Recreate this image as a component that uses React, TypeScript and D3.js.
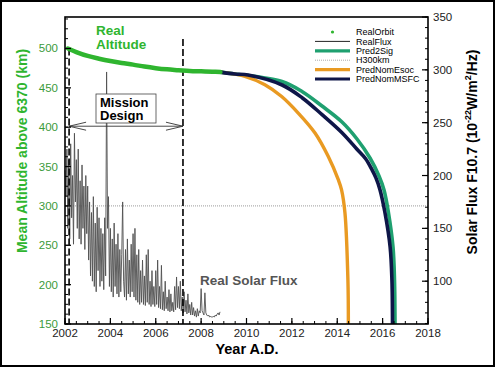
import React from "react";
import * as d3 from "d3";

// ---- data ----
const fluxStartYear = 2002;
const fluxStepsPerYear = 24;
const flux2002 = [205, 180, 225, 150, 215, 140, 230, 160, 200, 135, 240, 175, 215, 150, 225, 140, 195, 135, 210, 150, 190, 130, 200, 145];
const flux2003 = [190, 120, 175, 105, 165, 100, 180, 95, 155, 90, 170, 110, 160, 95, 150, 100, 145, 92, 160, 105, 298, 150, 180, 95];
const flux2004 = [150, 90, 140, 85, 155, 95, 135, 88, 145, 85, 130, 90, 125, 175, 100, 85, 130, 82, 140, 88, 120, 85, 135, 90];
const flux2005 = [145, 85, 150, 82, 125, 80, 130, 78, 110, 80, 120, 78, 105, 77, 125, 80, 130, 78, 100, 76, 110, 78, 95, 76];
const flux2006 = [110, 78, 120, 75, 95, 74, 115, 73, 90, 72, 100, 74, 85, 72, 92, 71, 88, 72, 80, 71, 95, 73, 104, 75];
const flux2007 = [95, 74, 100, 72, 85, 70, 90, 71, 82, 69, 88, 70, 78, 68, 80, 68, 75, 67, 72, 66, 74, 67, 72, 70];
const flux2008 = [93, 72, 70, 68, 89, 70, 68, 67, 68, 66, 67, 66, 66, 67, 66, 68, 67, 69, 70, 68, 71];
const realFlux = [...flux2002, ...flux2003, ...flux2004, ...flux2005, ...flux2006, ...flux2007, ...flux2008];

const realOrbitYears = [2002.13, 2002.5, 2003.0, 2003.5, 2004.0, 2004.5, 2005.0, 2005.5, 2006.0, 2006.5, 2007.0, 2007.5, 2008.0, 2008.5, 2008.85];
const realOrbitAlt = [500, 495.5, 490.5, 487, 484, 481.5, 479.5, 477, 475, 473.5, 472.5, 471.5, 471, 470.5, 470];

const pred2SigYears = [2008.85, 2009.49, 2011.565, 2012.446, 2013.328, 2014.209, 2014.87, 2015.443, 2015.84, 2016.061, 2016.259, 2016.457, 2016.523, 2016.545];
const pred2SigAlt = [470, 467.6, 458.1, 445.4, 426.9, 406.6, 385, 360.9, 338, 320.2, 291, 247.8, 205.9, 150];

const predMSFCYears = [2008.85, 2009.49, 2010.07, 2011.57, 2012.45, 2013.33, 2014.21, 2014.87, 2015.25, 2015.53, 2015.7, 2015.88, 2016.1, 2016.33, 2016.41, 2016.435];
const predMSFCAlt = [470, 467.6, 466.3, 453.6, 437.5, 416, 393, 372, 360, 346, 336, 321, 292, 248, 206, 150];

const predEsocYears = [2008.85, 2009.93, 2010.81, 2011.55, 2012.28, 2013.02, 2013.6, 2014.05, 2014.19, 2014.34, 2014.47, 2014.49];
const predEsocAlt = [470, 464.6, 454, 439, 418, 392.6, 363, 333, 320.5, 291, 206, 150];

const h300Alt = 300;
const missionStart = 2002.18;
const missionEnd = 2007.2;

const altTicks = [150, 200, 250, 300, 350, 400, 450, 500];
const fluxTicks = [100, 150, 200, 250, 300, 350];
const yearTicks = [2002, 2004, 2006, 2008, 2010, 2012, 2014, 2016, 2018];

const legendItems = ["RealOrbit", "RealFlux", "Pred2Sig", "H300km", "PredNomEsoc", "PredNomMSFC"];

// ---- styles ----
const C_ORBIT = "#2fb52f";
const C_2SIG = "#1fa070";
const C_ESOC = "#e99a22";
const C_MSFC = "#0e1648";
const C_FLUX = "#505050";
const FONT = "'Liberation Sans', Arial, Helvetica, sans-serif";

export default function App() {
  const L = 65, R = 428, T = 17, B = 324;
  const x = d3.scaleLinear().domain([2002, 2018]).range([L, R]);
  const yAlt = d3.scaleLinear().domain([150, 540]).range([B, T]);
  const yFlux = d3.scaleLinear().domain([59.5, 350]).range([B, T]);

  const fluxLine = d3.line<number>()
    .x((_, i) => x(fluxStartYear + i / fluxStepsPerYear))
    .y((d) => yFlux(d));

  const altLine = d3.line<[number, number]>()
    .x((d) => x(d[0]))
    .y((d) => yAlt(d[1]))
    .curve(d3.curveCatmullRom.alpha(0.5));

  const zip = (a: number[], b: number[]) => a.map((v, i) => [v, b[i]] as [number, number]);

  const altMinor = d3.range(150, 541, 12.5);
  const fluxMinor = d3.range(60, 351, 10);
  const yearMinor = d3.range(2002, 2018.01, 0.5);

  const ay = yAlt(400) - 1;
  const ax1 = x(missionStart);
  const ax2 = x(missionEnd);

  const legX1 = 315, legX2 = 350, legTX = 356, legY0 = 32, legDY = 9.4;

  return (
    <svg width={495} height={367} style={{ position: "absolute", left: 0, top: 0, background: "#fff" }} fontFamily={FONT}>
      <rect x={1} y={1} width={493} height={365} fill="#fff" stroke="#000" strokeWidth={2} />

      {/* H300km dotted */}
      <line x1={L} x2={R} y1={yAlt(h300Alt)} y2={yAlt(h300Alt)} stroke="#b0b0b0" strokeWidth={1.2} strokeDasharray="1,1" />

      {/* real flux */}
      <path d={fluxLine(realFlux) || ""} fill="none" stroke={C_FLUX} strokeWidth={0.9} />

      {/* mission dashed lines */}
      <line x1={ax1} x2={ax1} y1={yAlt(500)} y2={B} stroke="#000" strokeWidth={1.6} strokeDasharray="7,3" />
      <line x1={ax2} x2={ax2} y1={yAlt(512)} y2={B} stroke="#000" strokeWidth={1.6} strokeDasharray="7,3" />

      {/* arrow */}
      <g stroke="#333" strokeWidth={0.9} fill="none">
        <line x1={ax1} x2={ax2} y1={ay} y2={ay} />
        <polyline points={`${ax1 + 17},${ay - 4} ${ax1},${ay} ${ax1 + 17},${ay + 4}`} />
        <polyline points={`${ax2 - 17},${ay - 4} ${ax2},${ay} ${ax2 - 17},${ay + 4}`} />
      </g>

      {/* mission design box */}
      <rect x={96} y={94} width={60} height={29} fill="#fff" stroke="#444" strokeWidth={0.8} />
      <text x={100} y={106.5} fontSize={13} fontWeight="bold" fill="#000">Mission</text>
      <text x={100} y={120} fontSize={13} fontWeight="bold" fill="#000">Design</text>

      {/* predictions */}
      <path d={altLine(zip(pred2SigYears, pred2SigAlt)) || ""} fill="none" stroke={C_2SIG} strokeWidth={3.6} />
      <path d={altLine(zip(predEsocYears, predEsocAlt)) || ""} fill="none" stroke={C_ESOC} strokeWidth={3.4} />
      <path d={altLine(zip(predMSFCYears, predMSFCAlt)) || ""} fill="none" stroke={C_MSFC} strokeWidth={3.6} />
      <path d={altLine(zip(realOrbitYears, realOrbitAlt)) || ""} fill="none" stroke={C_ORBIT} strokeWidth={4.5} strokeLinecap="round" />

      {/* frame */}
      <rect x={L} y={T} width={R - L} height={B - T} fill="none" stroke="#000" strokeWidth={1.6} />

      {/* left axis ticks */}
      {altMinor.map((v) => (
        <line key={"am" + v} x1={L} x2={L + 3} y1={yAlt(v)} y2={yAlt(v)} stroke="#000" strokeWidth={1} />
      ))}
      {altTicks.map((v) => (
        <g key={"a" + v}>
          <line x1={L} x2={L + 6} y1={yAlt(v)} y2={yAlt(v)} stroke="#000" strokeWidth={1.2} />
          <text x={58} y={yAlt(v) + 4} fontSize={11.5} textAnchor="end" fill="#3a9a3a">{v}</text>
        </g>
      ))}

      {/* right axis ticks */}
      {fluxMinor.map((v) => (
        <line key={"fm" + v} x1={R - 3} x2={R} y1={yFlux(v)} y2={yFlux(v)} stroke="#000" strokeWidth={1} />
      ))}
      {fluxTicks.map((v) => (
        <g key={"f" + v}>
          <line x1={R - 6} x2={R} y1={yFlux(v)} y2={yFlux(v)} stroke="#000" strokeWidth={1.2} />
          <text x={433} y={yFlux(v) + 4} fontSize={11.5} textAnchor="start" fill="#222">{v}</text>
        </g>
      ))}

      {/* bottom axis ticks */}
      {yearMinor.map((v) => (
        <line key={"ym" + v} x1={x(v)} x2={x(v)} y1={B} y2={B - 3} stroke="#000" strokeWidth={1} />
      ))}
      {yearTicks.map((v) => (
        <g key={"y" + v}>
          <line x1={x(v)} x2={x(v)} y1={B} y2={B - 6} stroke="#000" strokeWidth={1.2} />
          <text x={x(v)} y={337} fontSize={11.5} textAnchor="middle" fill="#222">{v}</text>
        </g>
      ))}

      {/* annotations */}
      <text x={96} y={35} fontSize={13.5} fontWeight="bold" fill={C_ORBIT}>Real</text>
      <text x={96} y={49} fontSize={13.5} fontWeight="bold" fill={C_ORBIT}>Altitude</text>
      <text x={200} y={285} fontSize={13.5} fontWeight="bold" fill="#555">Real Solar Flux</text>

      {/* axis titles */}
      <text transform={`translate(27,151) rotate(-90)`} fontSize={14} fontWeight="bold" fill={C_ORBIT} textAnchor="middle">
        Mean Altitude above 6370 (km)
      </text>
      <text transform={`translate(477,152) rotate(-90)`} fontSize={14} fontWeight="bold" fill="#000" textAnchor="middle">
        Solar Flux F10.7 (10<tspan dy={-6} fontSize={9}>-22</tspan><tspan dy={6}>W/m</tspan><tspan dy={-6} fontSize={9}>2</tspan><tspan dy={6}>/Hz)</tspan>
      </text>
      <text x={247} y={354} fontSize={14.5} fontWeight="bold" fill="#000" textAnchor="middle">Year A.D.</text>

      {/* legend */}
      <g fontSize={9} fill="#000">
        <circle cx={(legX1 + legX2) / 2} cy={legY0} r={1.6} fill={C_ORBIT} />
        <line x1={legX1} x2={legX2} y1={legY0 + legDY} y2={legY0 + legDY} stroke="#222" strokeWidth={1} />
        <line x1={legX1} x2={legX2} y1={legY0 + 2 * legDY} y2={legY0 + 2 * legDY} stroke={C_2SIG} strokeWidth={3.2} />
        <line x1={legX1} x2={legX2} y1={legY0 + 3 * legDY} y2={legY0 + 3 * legDY} stroke="#aaa" strokeWidth={1} strokeDasharray="1,1" />
        <line x1={legX1} x2={legX2} y1={legY0 + 4 * legDY} y2={legY0 + 4 * legDY} stroke={C_ESOC} strokeWidth={3.2} />
        <line x1={legX1} x2={legX2} y1={legY0 + 5 * legDY} y2={legY0 + 5 * legDY} stroke={C_MSFC} strokeWidth={3.2} />
        {legendItems.map((t, i) => (
          <text key={t} x={legTX} y={legY0 + i * legDY + 3.2}>{t}</text>
        ))}
      </g>
    </svg>
  );
}
